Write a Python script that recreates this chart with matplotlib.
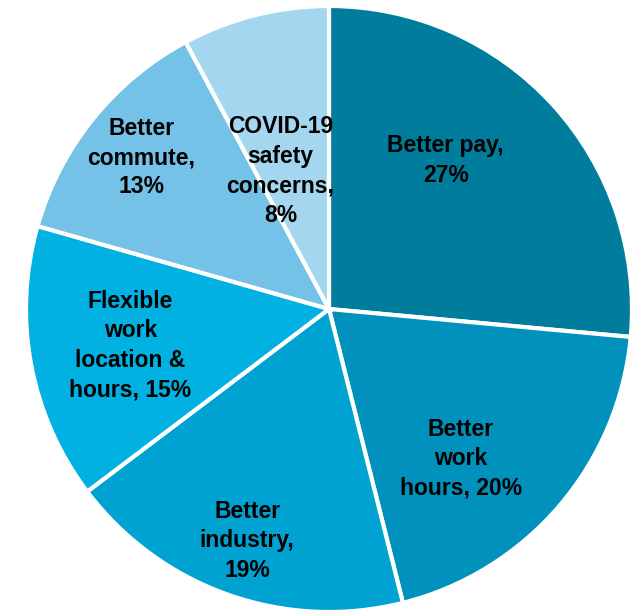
import matplotlib
matplotlib.use("Agg")
import matplotlib.pyplot as plt

labels = ["Better pay,\n27%", "Better\nwork\nhours, 20%", "Better\nindustry,\n19%",
          "Flexible\nwork\nlocation &\nhours, 15%", "Better\ncommute,\n13%",
          "COVID-19\nsafety\nconcerns,\n8%"]
shares = [27, 20, 19, 15, 13, 8]
colors = ["#007D9C", "#0092BC", "#00A2D2", "#00B1E1", "#74C2E8", "#A5D6F0"]
# label anchor points in axis units (pie radius = 1)
label_xy = [(0.385, 0.49), (0.435, -0.495), (-0.27, -0.765), (-0.655, -0.12),
            (-0.62, 0.50), (-0.16, 0.455)]

W, H = 641, 614
fig = plt.figure(figsize=(W / 100, H / 100), dpi=100)
cx, cy, r = 329, 309, 303
ax = fig.add_axes([(cx - r) / W, (H - cy - r) / H, 2 * r / W, 2 * r / H])
ax.pie(shares, colors=colors, startangle=90, counterclock=False, radius=1.0,
       wedgeprops=dict(edgecolor="white", linewidth=3))
ax.set_xlim(-1.0, 1.0)
ax.set_ylim(-1.0, 1.0)
ax.set_aspect("equal")
ax.axis("off")

for text, (x, y) in zip(labels, label_xy):
    ax.text(x, y, text, ha="center", va="center", fontsize=16.5,
            fontweight="bold", family=["Liberation Sans"], color="black",
            linespacing=1.36)

fig.savefig("out.png", dpi=100)
